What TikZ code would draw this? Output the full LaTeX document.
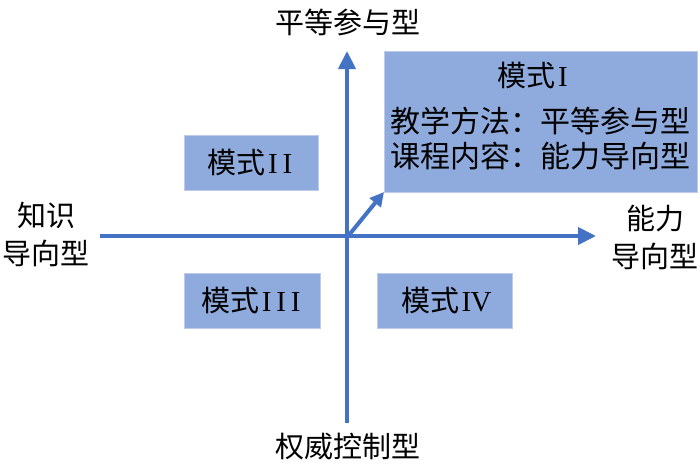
\documentclass[tikz,border=0pt]{standalone}
\usepackage{fontspec}
\setmainfont{Liberation Serif}
\newfontfamily\cjk{Noto Sans CJK SC}
\usetikzlibrary{arrows.meta}
\definecolor{axisblue}{HTML}{4472C4}
\definecolor{boxblue}{HTML}{8FAADC}
\newcommand{\RI}{\makebox[0.5em]{I}}
\newcommand{\RV}{\makebox[0.5em]{V}}
\begin{document}
\begin{tikzpicture}[x=1pt,y=-1pt,
  axis/.style={draw=axisblue,line width=4pt,-{Triangle[length=18pt,width=17pt]}},
  mbox/.style={fill=boxblue,draw=boxblue!60!white,line width=0.6pt,inner sep=0pt},
  lbl/.style={font=\fontsize{29pt}{38pt}\selectfont,align=center,inner sep=0pt,text=black},
  body/.style={font=\fontsize{30pt}{36pt}\selectfont,align=center,inner sep=0pt,text=black}]
\useasboundingbox (0,0) rectangle (700,475);
% boxes
\draw[mbox] (384,51) rectangle (697,192);
\node[mbox,minimum width=134pt,minimum height=55pt,anchor=north west] (b2) at (184,135) {};
\node[mbox,minimum width=136pt,minimum height=55pt,anchor=north west] (b3) at (184,273) {};
\node[mbox,minimum width=135pt,minimum height=55pt,anchor=north west] (b4) at (377,273) {};
\coordinate (b1c) at (384,192);
\node[lbl] (t1) at (534,76) {{\cjk 模式}\RI};
\node[body] (t1a) at (540,121) {\cjk 教学方法：平等参与型};
\node[body] (t1b) at (540,156) {\cjk 课程内容：能力导向型};
\node[lbl] at ([yshift=0pt]b2.center) {{\cjk 模式}\RI\RI};
\node[lbl] at (b3.center) {{\cjk 模式}\RI\RI\RI};
\node[lbl] at (b4.center) {{\cjk 模式}\RI\RV};
% axes
\coordinate (vb) at (347,423);
\coordinate (vt) at (347,51);
\coordinate (hl) at (100,236);
\coordinate (hr) at (596,236);
\coordinate (o) at (349,235);
\draw[axis] (vb) -- (vt);
\draw[axis] (hl) -- (hr);
\draw[draw=axisblue,line width=4pt,-{Triangle[length=14pt,width=14pt]}] (o) -- (b1c);
% labels
\node[lbl] (top) at (348,22) {\cjk 平等参与型};
\node[lbl] (bot) at (348,447) {\cjk 权威控制型};
\node[lbl] (left) at (46,234) {\cjk 知识\\ \cjk 导向型};
\node[lbl] (right) at (655,237) {\cjk 能力\\ \cjk 导向型};
\end{tikzpicture}
\end{document}
